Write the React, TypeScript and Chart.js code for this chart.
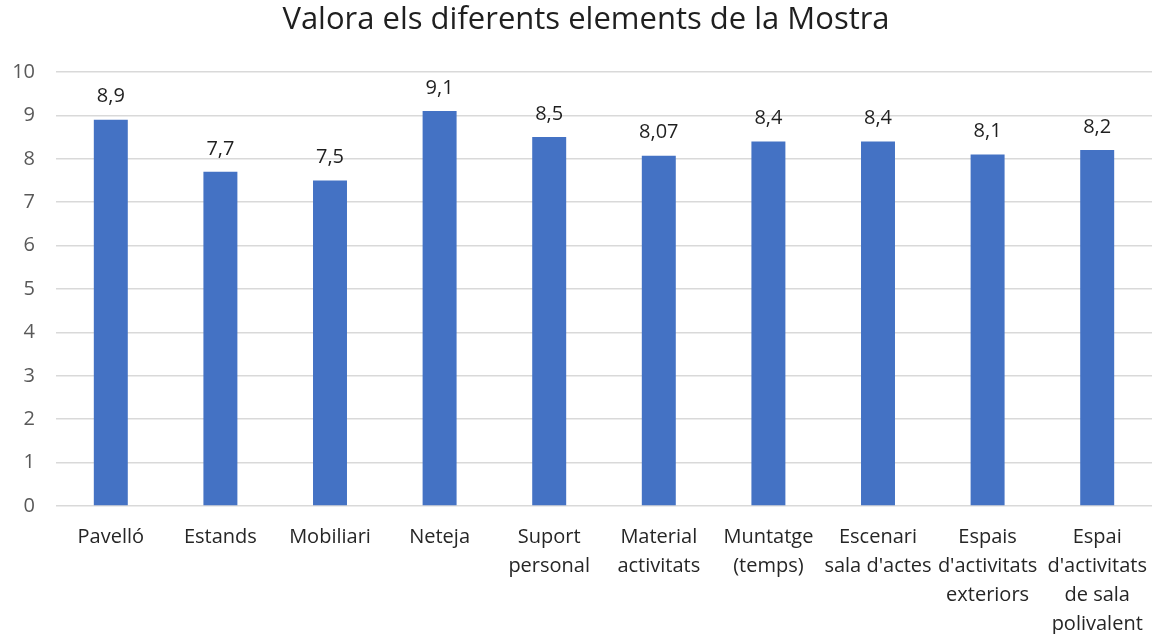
import React, { useEffect, useRef } from "react";
import { Chart, registerables } from "chart.js";

Chart.register(...registerables);

const TITLE = "Valora els diferents elements de la Mostra";
const categories: string[][] = [
  ["Pavelló"],
  ["Estands"],
  ["Mobiliari"],
  ["Neteja"],
  ["Suport", "personal"],
  ["Material", "activitats"],
  ["Muntatge", "(temps)"],
  ["Escenari", "sala d'actes"],
  ["Espais", "d'activitats", "exteriors"],
  ["Espai", "d'activitats", "de sala", "polivalent"],
];
const values: number[] = [8.9, 7.7, 7.5, 9.1, 8.5, 8.07, 8.4, 8.4, 8.1, 8.2];
const valueLabels: string[] = ["8,9", "7,7", "7,5", "9,1", "8,5", "8,07", "8,4", "8,4", "8,1", "8,2"];

const FONT = "'Open Sans', 'Noto Sans', sans-serif";

const dataLabelPlugin = {
  id: "dataLabels",
  afterDatasetsDraw(chart: any) {
    const ctx = chart.ctx;
    const meta = chart.getDatasetMeta(0);
    ctx.save();
    ctx.font = `20px ${FONT}`;
    ctx.fillStyle = "#1f1f1f";
    ctx.textAlign = "center";
    ctx.textBaseline = "middle";
    meta.data.forEach((bar: any, i: number) => {
      ctx.fillText(valueLabels[i], bar.x, bar.y - 23);
    });
    ctx.restore();
  },
};

const titlePlugin = {
  id: "customTitle",
  afterDraw(chart: any) {
    const ctx = chart.ctx;
    ctx.save();
    ctx.font = `31px ${FONT}`;
    ctx.fillStyle = "#1f1f1f";
    ctx.textAlign = "center";
    ctx.textBaseline = "middle";
    ctx.fillText(TITLE, 586, 20);
    ctx.restore();
  },
};

export default function App() {
  const ref = useRef<HTMLCanvasElement>(null);
  useEffect(() => {
    document.body.style.margin = "0";
    const chart = new Chart(ref.current!, {
      type: "bar",
      data: {
        labels: categories,
        datasets: [
          {
            data: values,
            backgroundColor: "#4472C4",
            barPercentage: 0.62,
            categoryPercentage: 0.5,
          },
        ],
      },
      plugins: [dataLabelPlugin, titlePlugin],
      options: {
        animation: false,
        responsive: false,
        layout: { padding: { left: 0, right: 0, top: 72, bottom: 0 } },
        plugins: {
          legend: { display: false },
          tooltip: { enabled: false },
          title: { display: false },
        },
        scales: {
          x: {
            afterFit: (scale: any) => {
              scale.height = 128;
              scale.paddingLeft = 0;
              scale.paddingRight = 0;
            },
            grid: { display: false },
            border: { display: false },
            ticks: {
              color: "#262626",
              font: { family: FONT, size: 20, lineHeight: 1.45 },
              maxRotation: 0,
              autoSkip: false,
              padding: 9,
            },
          },
          y: {
            min: 0,
            max: 10,
            afterFit: (scale: any) => {
              scale.width = 56;
              scale.paddingTop = 0;
              scale.paddingBottom = 0;
            },
            grid: { color: "#d9d9d9", lineWidth: 1.5, drawTicks: false },
            border: { display: false },
            ticks: {
              stepSize: 1,
              color: "#595959",
              font: { family: FONT, size: 20 },
              padding: 21,
            },
          },
        },
      },
    } as any);
    return () => chart.destroy();
  }, []);
  return (
    <div style={{ width: 1152, height: 634 }}>
      <canvas ref={ref} width={1152} height={634} style={{ display: "block" }} />
    </div>
  );
}
